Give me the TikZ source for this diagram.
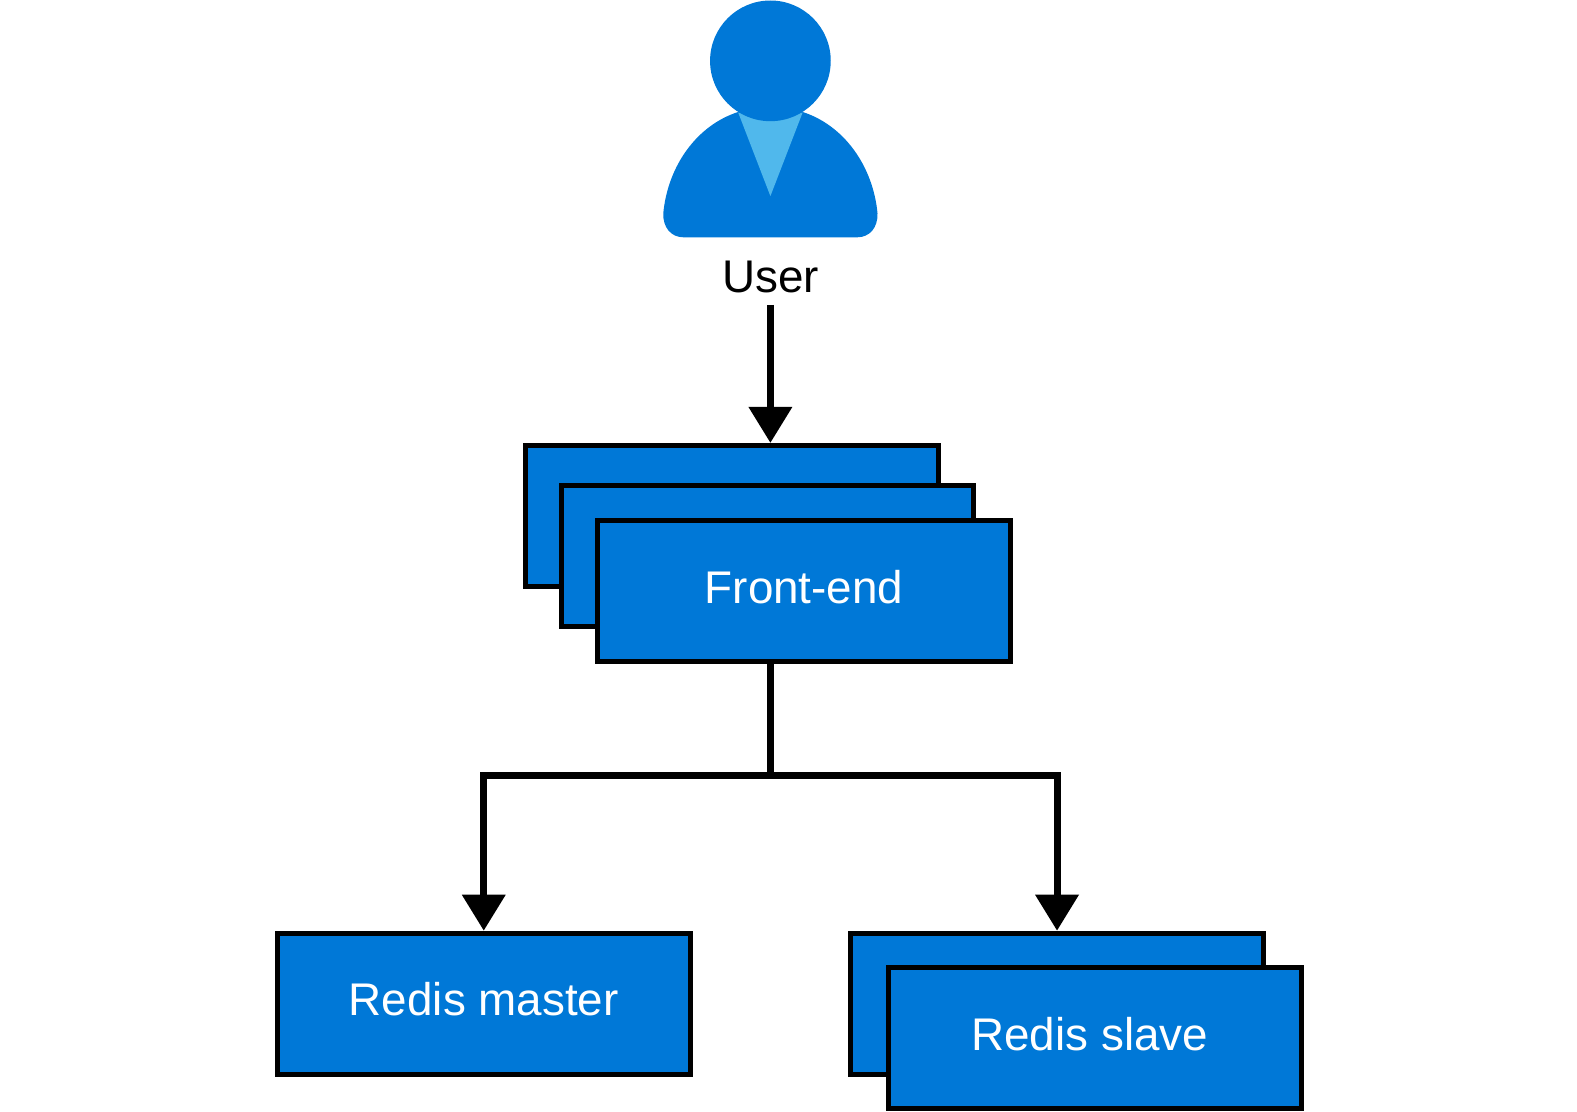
\documentclass[tikz,border=0pt]{standalone}
\usepackage{fontspec}
\setmainfont{Liberation Sans}
\usetikzlibrary{arrows.meta}
\definecolor{azure}{HTML}{0078D7}
\definecolor{azurelight}{HTML}{50B8EC}
\tikzset{
  bluebox/.style={draw=black,fill=azure,line width=5pt,minimum width=412.6pt,minimum height=141pt,inner sep=0pt,
    text=white,font=\fontsize{45.8pt}{50pt}\selectfont,text height=32pt,text depth=8pt},
  link/.style={draw=black,line width=7pt},
  linkarrow/.style={link,-{Triangle[width=42pt,length=36pt]}},
  userlabel/.style={font=\fontsize{45.8pt}{50pt}\selectfont,text=black,inner sep=0pt,text height=42pt,text depth=12pt},
}
\begin{document}
\begin{tikzpicture}[x=1.0057pt,y=-1.0057pt]
\useasboundingbox (0,0) rectangle (1568,1104.7);
% person icon
\fill[azure] (766,236) -- (680,236) .. controls (667,236) and (659,226) .. (659.5,212)
  .. controls (664,165) and (693,124) .. (735,111) -- (797,111)
  .. controls (839,124) and (868,165) .. (872.5,212)
  .. controls (873,226) and (865,236) .. (852,236) -- cycle;
\fill[azurelight] (734,112) -- (798,112) -- (766,195) -- cycle;
\fill[azure] (766,60.5) circle[radius=60];
\node[userlabel] (user) at (766,276) {User};
% front-end stack
\node[bluebox] (fea) at (728,513) {};
\node[bluebox] (feb) at (763,553) {};
\node[bluebox] (fec) at (799.5,588) {Front-end};
% redis
\node[bluebox] (master) at (481,998) {Redis master};
\node[bluebox] (slavea) at (1051,998) {};
\node[bluebox] (slaveb) at (1088.5,1032.5) {Redis slave\kern10pt};
% connectors
\coordinate (junction) at (766,771);
\draw[linkarrow] (user.south) -- (user.south |- fea.north);
\draw[link] (fec.south -| user.south) -- (junction);
\draw[linkarrow] (junction) -| (master.north);
\draw[linkarrow] (junction) -| (slavea.north);
\end{tikzpicture}
\end{document}
